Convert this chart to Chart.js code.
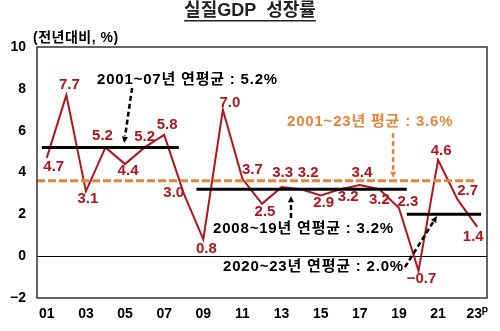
<!DOCTYPE html>
<html>
<head>
<meta charset="utf-8">
<script src="https://cdn.jsdelivr.net/npm/chart.js@4"></script>
<style>
  html, body { margin: 0; padding: 0; background: #fff; }
  #wrap { width: 500px; height: 331px; }
</style>
</head>
<body>
<div id="wrap"><canvas id="gdpChart" width="500" height="331"></canvas></div>
<script>
// 실질GDP 성장률 (전년대비, %)
const years = [2001, 2002, 2003, 2004, 2005, 2006, 2007, 2008, 2009, 2010, 2011, 2012,
               2013, 2014, 2015, 2016, 2017, 2018, 2019, 2020, 2021, 2022, 2023];
const growth = [4.7, 7.7, 3.1, 5.2, 4.4, 5.2, 5.8, 3.0, 0.8, 7.0, 3.7, 2.5,
                3.3, 3.2, 2.9, 3.2, 3.4, 3.2, 2.3, -0.7, 4.6, 2.7, 1.4];
const xTickYears = [2001, 2003, 2005, 2007, 2009, 2011, 2013, 2015, 2017, 2019, 2021, 2023];
const xTickLabels = ['01', '03', '05', '07', '09', '11', '13', '15', '17', '19', '21', '23'];
const yTicks = [-2, 0, 2, 4, 6, 8, 10];

// period averages
const periodLabels = ['2001~07년 연평균 : 5.2%', '2008~19년 연평균 : 3.2%', '2020~23년 연평균 : 2.0%'];
const periodAvg = [5.2, 3.2, 2.0];
const periodSpan = [[2000.75, 2007.75], [2008.65, 2019.4], [2019.4, 2023.2]];
const totalLabel = '2001~23년 평균 : 3.6%';
const totalAvg = 3.6;
const totalSpan = [2000.5, 2022.9];

const RED = '#b3151d';
const ORANGE = '#e5843a';
const FONT = 'Arial, "Liberation Sans", "Noto Sans CJK KR", sans-serif';

// label nudges (px) for each point value
const labelNudge = [[7, 9], [3, -10], [2, 8], [-3, -12], [3, 7], [0, -11], [3, -10], [-10, -1],
                    [3, 9], [7, -7], [10, -9], [3, 8], [1, -14], [7, -16], [3, 7], [8, 8],
                    [2, -12], [0, 11], [9, -6], [3, 8], [3, -9], [10, -9], [-4, 10]];

// annotation text anchors / arrows, in data space (year, value)
const noteText = [
  { text: periodLabels[0], x: 2003.57, y: 8.42, color: '#000' },
  { text: totalLabel, x: 2013.28, y: 6.41, color: ORANGE },
  { text: periodLabels[1], x: 2009.5, y: 1.3, color: '#000' },
  { text: periodLabels[2], x: 2010.01, y: -0.52, color: '#000' }
];
const noteArrows = [
  { from: [2005.36, 8.04], to: [2004.95, 5.41], color: '#000' },
  { from: [2018.7, 5.89], to: [2018.7, 3.74], color: ORANGE },
  { from: [2013.48, 1.82], to: [2013.48, 2.88], color: '#000' },
  { from: [2019.31, -0.52], to: [2020.94, 1.92], color: '#000' }
];

const growthPoints = years.map((y, i) => ({ x: y, y: growth[i] }));
const periodDatasets = periodAvg.map((v, i) => ({
  data: [{ x: periodSpan[i][0], y: v }, { x: periodSpan[i][1], y: v }],
  borderColor: '#000', borderWidth: 3, pointRadius: 0, order: 2
}));

function arrow(ctx, x1, y1, x2, y2, color) {
  const ang = Math.atan2(y2 - y1, x2 - x1);
  const head = 7;
  ctx.save();
  ctx.strokeStyle = color;
  ctx.fillStyle = color;
  ctx.lineWidth = 2.5;
  ctx.setLineDash([5, 3]);
  ctx.beginPath();
  ctx.moveTo(x1, y1);
  ctx.lineTo(x2 - Math.cos(ang) * head, y2 - Math.sin(ang) * head);
  ctx.stroke();
  ctx.setLineDash([]);
  ctx.beginPath();
  ctx.moveTo(x2, y2);
  ctx.lineTo(x2 - head * Math.cos(ang - 0.45), y2 - head * Math.sin(ang - 0.45));
  ctx.lineTo(x2 - head * Math.cos(ang + 0.45), y2 - head * Math.sin(ang + 0.45));
  ctx.closePath();
  ctx.fill();
  ctx.restore();
}

const decorations = {
  id: 'decorations',
  beforeDraw(chart) {
    const ctx = chart.ctx;
    ctx.save();
    ctx.fillStyle = '#fff';
    ctx.fillRect(0, 0, chart.width, chart.height);
    // title
    ctx.fillStyle = '#222';
    ctx.font = 'bold 18px ' + FONT;
    ctx.textAlign = 'center';
    ctx.textBaseline = 'middle';
    const title = '실질GDP  성장률';
    ctx.fillText(title, 250, 11);
    const w = ctx.measureText(title).width;
    ctx.fillRect(250 - w / 2, 20, w, 1.5);
    // unit
    ctx.fillStyle = '#000';
    ctx.font = 'bold 14px ' + FONT;
    ctx.letterSpacing = '0.5px';
    ctx.textAlign = 'left';
    ctx.fillText('(전년대비, %)', 33, 38);
    ctx.restore();
  },
  afterDraw(chart) {
    const ctx = chart.ctx;
    const xs = chart.scales.x, ys = chart.scales.y;
    const a = chart.chartArea;
    ctx.save();
    ctx.strokeStyle = '#333';
    ctx.lineWidth = 1.5;
    ctx.strokeRect(a.left, a.top, a.right - a.left, a.bottom - a.top);
    // point labels
    ctx.font = 'bold 15px ' + FONT;
    ctx.textAlign = 'center';
    ctx.textBaseline = 'middle';
    ctx.fillStyle = RED;
    growth.forEach((v, i) => {
      const px = xs.getPixelForValue(years[i]);
      const py = ys.getPixelForValue(v);
      const txt = v < 0 ? '\u2212' + Math.abs(v).toFixed(1) : v.toFixed(1);
      ctx.fillText(txt, px + labelNudge[i][0], py + labelNudge[i][1]);
    });
    // notes
    ctx.font = 'bold 15px ' + FONT;
    ctx.letterSpacing = '0.8px';
    ctx.textAlign = 'left';
    noteText.forEach(n => {
      ctx.fillStyle = n.color;
      ctx.fillText(n.text, xs.getPixelForValue(n.x), ys.getPixelForValue(n.y));
    });
    ctx.letterSpacing = '0px';
    noteArrows.forEach(ar => {
      arrow(ctx, xs.getPixelForValue(ar.from[0]), ys.getPixelForValue(ar.from[1]),
            xs.getPixelForValue(ar.to[0]), ys.getPixelForValue(ar.to[1]), ar.color);
    });
    ctx.restore();
  }
};

new Chart(document.getElementById('gdpChart'), {
  type: 'line',
  data: {
    datasets: [
      { data: growthPoints, borderColor: RED, borderWidth: 2, pointRadius: 0, tension: 0, order: 3 },
      ...periodDatasets,
      { data: [{ x: totalSpan[0], y: totalAvg }, { x: totalSpan[1], y: totalAvg }],
        borderColor: ORANGE, borderWidth: 3, borderDash: [8, 3], pointRadius: 0, order: 1 }
    ]
  },
  options: {
    responsive: false,
    devicePixelRatio: 1,
    animation: false,
    layout: { padding: { top: 47, right: 13, left: 0, bottom: 0 } },
    plugins: { legend: { display: false }, tooltip: { enabled: false } },
    scales: {
      x: {
        type: 'linear', min: 2000.5, max: 2023.5,
        afterBuildTicks: s => { s.ticks = xTickYears.map(v => ({ value: v })); },
        afterFit: s => { s.height = 33; },
        grid: { display: false, drawTicks: false },
        border: { display: false },
        ticks: {
          autoSkip: false, maxRotation: 0, padding: 8, color: '#000',
          font: { family: FONT, size: 14, weight: 'bold' },
          callback: v => {
            const lbl = xTickLabels[xTickYears.indexOf(v)];
            return v === 2023 ? lbl + '\u1D3E' : lbl;
          }
        }
      },
      y: {
        min: -2, max: 10,
        afterBuildTicks: s => { s.ticks = yTicks.map(v => ({ value: v })); },
        afterFit: s => { s.width = 37; },
        grid: { drawTicks: false, lineWidth: 1, color: c => c.tick && c.tick.value === 0 ? '#000' : 'rgba(0,0,0,0)' },
        border: { display: false },
        ticks: {
          padding: 11, color: '#000',
          font: { family: FONT, size: 14, weight: 'bold' },
          callback: v => v < 0 ? '\u2212' + Math.abs(v) : String(v)
        }
      }
    }
  },
  plugins: [decorations]
});
</script>
</body>
</html>
